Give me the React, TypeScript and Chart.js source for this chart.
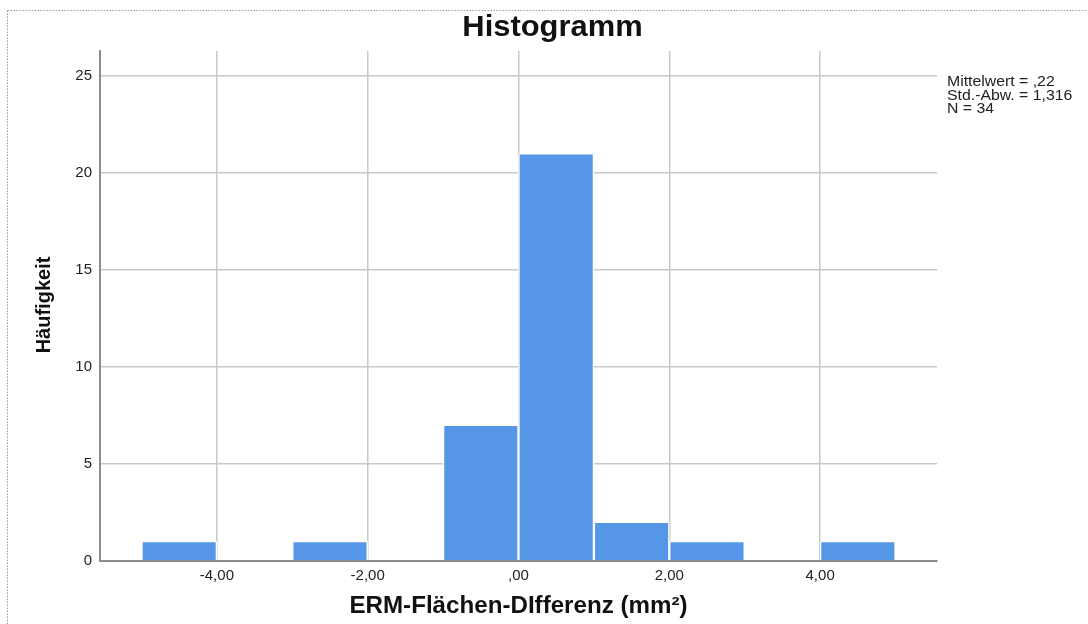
import React, { useEffect, useRef } from "react";
import { Chart, registerables } from "chart.js";

Chart.register(...registerables);

// ---- data ----
const binCenters = [-4.5, -3.5, -2.5, -1.5, -0.5, 0.5, 1.5, 2.5, 3.5, 4.5];
const frequencies = [1, 0, 1, 0, 7, 21, 2, 1, 0, 1];
const xTickValues = [-4, -2, 0, 2, 4];
const yTickValues = [0, 5, 10, 15, 20, 25];
const titleText = "Histogramm";
const xAxisTitle = "ERM-Flächen-DIfferenz (mm²)";
const yAxisTitle = "Häufigkeit";
const statsLines = ["Mittelwert = ,22", "Std.-Abw. = 1,316", "N = 34"];

const FONT = '"Liberation Sans", Arial, Helvetica, sans-serif';

function fmtX(v: number): string {
  if (v === 0) return ",00";
  return v.toFixed(2).replace(".", ",");
}

function drawScaled(
  ctx: CanvasRenderingContext2D,
  text: string,
  x: number,
  y: number,
  sx: number
) {
  ctx.save();
  ctx.translate(x, y);
  ctx.scale(sx, 1);
  ctx.fillText(text, 0, 0);
  ctx.restore();
}

export default function App() {
  const ref = useRef<HTMLCanvasElement>(null);

  useEffect(() => {
    const canvas = ref.current;
    if (!canvas) return;

    const textPlugin = {
      id: "spssTexts",
      beforeDraw(chart: any) {
        const ctx = chart.ctx as CanvasRenderingContext2D;
        ctx.save();
        ctx.strokeStyle = "#9a9a9a";
        ctx.lineWidth = 1;
        ctx.setLineDash([1.5, 1.5]);
        ctx.beginPath();
        ctx.moveTo(7.5, 10.5);
        ctx.lineTo(1086, 10.5);
        ctx.moveTo(7.5, 10.5);
        ctx.lineTo(7.5, 624);
        ctx.stroke();
        ctx.restore();
      },
      afterDraw(chart: any) {
        const ctx = chart.ctx as CanvasRenderingContext2D;
        const area = chart.chartArea;
        ctx.save();
        ctx.fillStyle = "#111";
        ctx.textBaseline = "alphabetic";
        // Title
        ctx.font = `bold 30px ${FONT}`;
        ctx.textAlign = "center";
        drawScaled(ctx, titleText, 552.5, 36, 1.03);
        // X axis title
        ctx.font = `bold 23px ${FONT}`;
        drawScaled(ctx, xAxisTitle, (area.left + area.right) / 2, 613, 1.05);
        // Y axis title
        ctx.save();
        ctx.font = `bold 20px ${FONT}`;
        ctx.translate(50, 305);
        ctx.rotate(-Math.PI / 2);
        ctx.fillText(yAxisTitle, 0, 0);
        ctx.restore();
        // Stats
        ctx.font = `14px ${FONT}`;
        ctx.textAlign = "left";
        ctx.fillStyle = "#222";
        statsLines.forEach((line, i) => {
          drawScaled(ctx, line, 947, 86 + i * 13.5, 1.13);
        });
        ctx.restore();
      },
    };

    const gridColor = "#c8c8c8";
    const borderColor = "#8c8c8c";

    const chart = new Chart(canvas, {
      type: "bar",
      data: {
        datasets: [
          {
            data: binCenters.map((x, i) => ({ x, y: frequencies[i] })),
            backgroundColor: "#5596E6",
            borderColor: "rgba(255,255,255,0.95)",
            borderWidth: { left: 1.5, right: 1.5, top: 1, bottom: 0 },
            borderSkipped: "start",
            barPercentage: 1,
            categoryPercentage: 1,
          } as any,
        ],
      },
      options: {
        responsive: false,
        animation: false,
        layout: { padding: { left: 40, right: 151, top: 51, bottom: 23 } },
        plugins: {
          legend: { display: false },
          tooltip: { enabled: false },
          title: { display: false },
        },
        scales: {
          x: {
            type: "linear",
            min: -5.55,
            max: 5.55,
            offset: false,
            afterBuildTicks: (s: any) => {
              s.ticks = xTickValues.map((v) => ({ value: v }));
            },
            afterFit: (s: any) => {
              s.height = 40;
            },
            grid: {
              color: gridColor,
              lineWidth: 1.5,
              drawTicks: false,
              offset: false,
            },
            border: { color: borderColor, width: 2, z: 1 },
            ticks: {
              padding: 6,
              color: "#222",
              font: { family: FONT, size: 15 },
              maxRotation: 0,
              autoSkip: false,
              callback: (v: any) => fmtX(Number(v)),
            },
          },
          y: {
            type: "linear",
            min: 0,
            max: 26.3,
            afterBuildTicks: (s: any) => {
              s.ticks = yTickValues.map((v) => ({ value: v }));
            },
            afterFit: (s: any) => {
              s.width = 60;
            },
            grid: {
              color: gridColor,
              lineWidth: 1.5,
              drawTicks: false,
            },
            border: { color: borderColor, width: 2 },
            ticks: {
              padding: 8,
              color: "#222",
              font: { family: FONT, size: 15 },
              autoSkip: false,
              callback: (v: any) => String(v),
            },
          },
        },
      } as any,
      plugins: [textPlugin],
    });

    return () => chart.destroy();
  }, []);

  return (
    <div
      style={{
        position: "absolute",
        left: 0,
        top: 0,
        width: 1088,
        height: 624,
        background: "#ffffff",
      }}
    >
      <canvas ref={ref} width={1088} height={624} style={{ display: "block" }} />
    </div>
  );
}
